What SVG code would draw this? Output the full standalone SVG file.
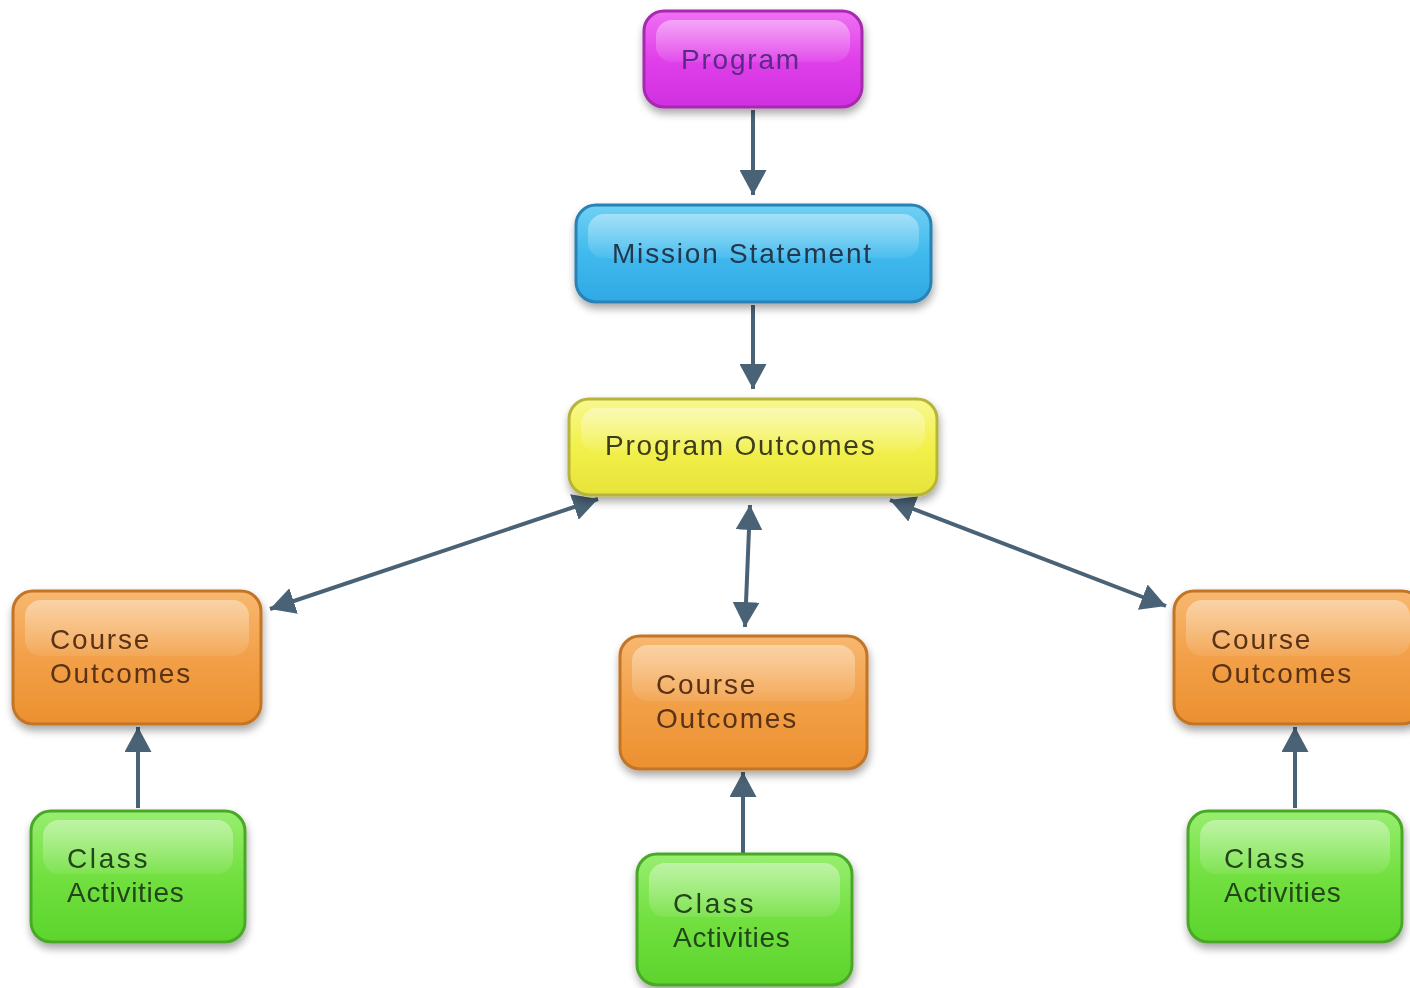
<svg xmlns="http://www.w3.org/2000/svg" width="1410" height="988" viewBox="0 0 1410 988">
<defs>
<style>
.lbl{font-family:"Liberation Sans",Arial,sans-serif;font-size:28px;letter-spacing:1.8px}
.act{letter-spacing:0.7px}
.cls{letter-spacing:2.6px}
.conn{stroke:#4a6275;stroke-width:4;fill:none}
.hl{fill:url(#gHL)}
</style>
<filter id="sh" x="-10%" y="-10%" width="125%" height="135%">
<feGaussianBlur in="SourceAlpha" stdDeviation="4"/>
<feOffset dx="1" dy="5" result="b"/>
<feComponentTransfer><feFuncA type="linear" slope="0.35"/></feComponentTransfer>
<feMerge><feMergeNode/><feMergeNode in="SourceGraphic"/></feMerge>
</filter>
<linearGradient id="gHL" x1="0" y1="0" x2="0" y2="1">
<stop offset="0" stop-color="#fff" stop-opacity="0.4"/>
<stop offset="1" stop-color="#fff" stop-opacity="0.08"/>
</linearGradient>
<linearGradient id="gMag" x1="0" y1="0" x2="0" y2="1">
<stop offset="0" stop-color="#f070f4"/><stop offset="0.5" stop-color="#e040ea"/><stop offset="1" stop-color="#d030e0"/>
</linearGradient>
<linearGradient id="gBlue" x1="0" y1="0" x2="0" y2="1">
<stop offset="0" stop-color="#70d0f4"/><stop offset="0.5" stop-color="#40baee"/><stop offset="1" stop-color="#30a8e4"/>
</linearGradient>
<linearGradient id="gYel" x1="0" y1="0" x2="0" y2="1">
<stop offset="0" stop-color="#f8f890"/><stop offset="0.5" stop-color="#f2f04a"/><stop offset="1" stop-color="#e6e43a"/>
</linearGradient>
<linearGradient id="gOra" x1="0" y1="0" x2="0" y2="1">
<stop offset="0" stop-color="#f8b870"/><stop offset="0.5" stop-color="#f2a048"/><stop offset="1" stop-color="#ec9030"/>
</linearGradient>
<linearGradient id="gGrn" x1="0" y1="0" x2="0" y2="1">
<stop offset="0" stop-color="#98ee70"/><stop offset="0.5" stop-color="#72e040"/><stop offset="1" stop-color="#5cd42c"/>
</linearGradient>
<marker id="ah" viewBox="0 0 24 26" refX="24" refY="13" markerWidth="25" markerHeight="27" markerUnits="userSpaceOnUse" orient="auto-start-reverse">
<path d="M0,0 L24,13 L0,26 Z" fill="#4a6275"/>
</marker>
</defs>
<rect width="1410" height="988" fill="#ffffff"/>

<g id="connectors">
<line class="conn" x1="753" y1="110" x2="753" y2="195" marker-end="url(#ah)"/>
<line class="conn" x1="753" y1="305" x2="753" y2="389" marker-end="url(#ah)"/>
<line class="conn" x1="598" y1="499" x2="270" y2="609" marker-start="url(#ah)" marker-end="url(#ah)"/>
<line class="conn" x1="750" y1="505" x2="745" y2="627" marker-start="url(#ah)" marker-end="url(#ah)"/>
<line class="conn" x1="890" y1="500" x2="1166" y2="606" marker-start="url(#ah)" marker-end="url(#ah)"/>
<line class="conn" x1="138" y1="808" x2="138" y2="727" marker-end="url(#ah)"/>
<line class="conn" x1="743" y1="853" x2="743" y2="772" marker-end="url(#ah)"/>
<line class="conn" x1="1295" y1="808" x2="1295" y2="727" marker-end="url(#ah)"/>
</g>

<g id="program" filter="url(#sh)">
<rect x="644" y="11" width="218" height="96" rx="20" fill="url(#gMag)" stroke="#a52aae" stroke-width="3"/>
<rect x="656" y="20" width="194" height="42" rx="16" class="hl"/>
<text class="lbl" x="681" y="69" fill="#5a2a86">Program</text>
</g>

<g id="mission" filter="url(#sh)">
<rect x="576" y="205" width="355" height="97" rx="20" fill="url(#gBlue)" stroke="#2a82b4" stroke-width="3"/>
<rect x="588" y="214" width="331" height="44" rx="16" class="hl"/>
<text class="lbl" x="612" y="263" fill="#23384e">Mission Statement</text>
</g>

<g id="program-outcomes" filter="url(#sh)">
<rect x="569" y="399" width="368" height="96" rx="20" fill="url(#gYel)" stroke="#b6b43a" stroke-width="3"/>
<rect x="581" y="408" width="344" height="44" rx="16" class="hl"/>
<text class="lbl" x="605" y="455" fill="#3e3e1a">Program Outcomes</text>
</g>

<g id="course-left" filter="url(#sh)">
<rect x="13" y="591" width="248" height="133" rx="20" fill="url(#gOra)" stroke="#c27426" stroke-width="3"/>
<rect x="25" y="600" width="224" height="56" rx="16" class="hl"/>
<text class="lbl" x="50" y="649" fill="#5a3218">Course</text>
<text class="lbl" x="50" y="683" fill="#5a3218">Outcomes</text>
</g>

<g id="course-center" filter="url(#sh)">
<rect x="620" y="636" width="247" height="133" rx="20" fill="url(#gOra)" stroke="#c27426" stroke-width="3"/>
<rect x="632" y="645" width="223" height="56" rx="16" class="hl"/>
<text class="lbl" x="656" y="694" fill="#5a3218">Course</text>
<text class="lbl" x="656" y="728" fill="#5a3218">Outcomes</text>
</g>

<g id="course-right" filter="url(#sh)">
<rect x="1174" y="591" width="248" height="133" rx="20" fill="url(#gOra)" stroke="#c27426" stroke-width="3"/>
<rect x="1186" y="600" width="224" height="56" rx="16" class="hl"/>
<text class="lbl" x="1211" y="649" fill="#5a3218">Course</text>
<text class="lbl" x="1211" y="683" fill="#5a3218">Outcomes</text>
</g>

<g id="class-left" filter="url(#sh)">
<rect x="31" y="811" width="214" height="131" rx="20" fill="url(#gGrn)" stroke="#48a828" stroke-width="3"/>
<rect x="43" y="820" width="190" height="54" rx="16" class="hl"/>
<text class="lbl cls" x="67" y="868" fill="#24441a">Class</text>
<text class="lbl act" x="67" y="902" fill="#24441a">Activities</text>
</g>

<g id="class-center" filter="url(#sh)">
<rect x="637" y="854" width="215" height="131" rx="20" fill="url(#gGrn)" stroke="#48a828" stroke-width="3"/>
<rect x="649" y="863" width="191" height="54" rx="16" class="hl"/>
<text class="lbl cls" x="673" y="913" fill="#24441a">Class</text>
<text class="lbl act" x="673" y="947" fill="#24441a">Activities</text>
</g>

<g id="class-right" filter="url(#sh)">
<rect x="1188" y="811" width="214" height="131" rx="20" fill="url(#gGrn)" stroke="#48a828" stroke-width="3"/>
<rect x="1200" y="820" width="190" height="54" rx="16" class="hl"/>
<text class="lbl cls" x="1224" y="868" fill="#24441a">Class</text>
<text class="lbl act" x="1224" y="902" fill="#24441a">Activities</text>
</g>
</svg>
